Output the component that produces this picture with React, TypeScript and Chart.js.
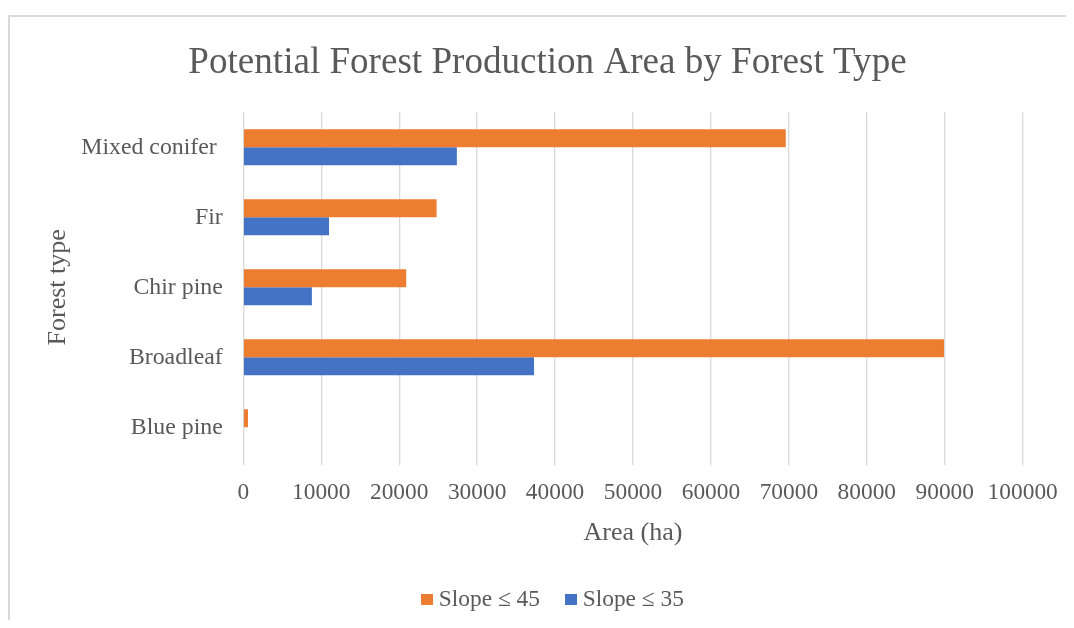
import React, { useEffect, useRef } from "react";
import { Chart, registerables } from "chart.js";

Chart.register(...registerables);

const categories = ["Mixed conifer ", "Fir", "Chir pine", "Broadleaf", "Blue pine"];
const slope45 = [69600, 24800, 20900, 89900, 600];
const slope35 = [27400, 11000, 8800, 37300, 0];
const seriesLabels = ["Slope ≤ 45", "Slope ≤ 35"];
const seriesColors = ["#ED7D31", "#4472C4"];
const xMin = 0;
const xMax = 100000;
const xStep = 10000;

const chartTitle = "Potential Forest Production Area by Forest Type";
const xTitle = "Area (ha)";
const yTitle = "Forest type";

const FONT = "'Liberation Serif', 'Times New Roman', serif";
const TEXT = "#595959";
const GRID = "#d9d9d9";

function makeBox(color: string): HTMLCanvasElement {
  const cv = document.createElement("canvas");
  cv.width = 12;
  cv.height = 11;
  const g = cv.getContext("2d")!;
  g.fillStyle = color;
  g.fillRect(0, 0, 12, 11);
  return cv;
}

const legendShift = {
  id: "legendShift",
  afterLayout(chart: any) {
    const lg = chart.legend;
    if (lg) {
      lg.left += 7.5;
      lg.right += 7.5;
    }
  },
};

export default function App() {
  const ref = useRef<HTMLCanvasElement | null>(null);

  useEffect(() => {
    if (!ref.current) return;
    const boxes = seriesColors.map(makeBox);
    const chart = new Chart(ref.current, {
      type: "bar",
      data: {
        labels: categories,
        datasets: [
          { label: seriesLabels[0], data: slope45, backgroundColor: seriesColors[0], borderWidth: 0 },
          { label: seriesLabels[1], data: slope35, backgroundColor: seriesColors[1], borderWidth: 0 },
        ],
      },
      plugins: [legendShift],
      options: {
        indexAxis: "y",
        responsive: false,
        animation: false,
        devicePixelRatio: 1,
        categoryPercentage: 0.515,
        barPercentage: 1,
        layout: { padding: { top: 0, left: 0, right: 0, bottom: 6.7 } },
        plugins: {
          tooltip: { enabled: false },
          title: {
            display: true,
            text: chartTitle,
            color: TEXT,
            font: { family: FONT, size: 37.1, weight: "normal" },
            padding: { top: 33, bottom: 26.8 },
          },
          legend: {
            position: "bottom",
            labels: {
              usePointStyle: true,
              boxWidth: 1,
              boxHeight: 11,
              padding: 30,
              color: TEXT,
              font: { family: FONT, size: 23.4 },
              generateLabels: (c: any) =>
                c.data.datasets.map((ds: any, i: number) => ({
                  text: ds.label,
                  fillStyle: ds.backgroundColor,
                  strokeStyle: ds.backgroundColor,
                  lineWidth: 0,
                  hidden: false,
                  datasetIndex: i,
                  pointStyle: boxes[i],
                  fontColor: TEXT,
                })),
            },
          },
        },
        scales: {
          x: {
            type: "linear",
            position: "bottom",
            min: xMin,
            max: xMax,
            afterFit: (s: any) => {
              s.height = 95.6;
            },
            ticks: {
              stepSize: xStep,
              color: TEXT,
              padding: 13.8,
              font: { family: FONT, size: 23.4 },
              callback: (v: any) => String(v),
            },
            grid: {
              color: GRID,
              lineWidth: 1.3,
              drawTicks: true,
              tickLength: 3,
              tickColor: GRID,
            },
            border: { display: false },
            title: {
              display: true,
              text: xTitle,
              color: TEXT,
              font: { family: FONT, size: 26 },
              padding: { top: 10.4, bottom: 9.1 },
            },
          },
          y: {
            type: "category",
            position: "left",
            afterFit: (s: any) => {
              s.width = 235.3;
            },
            ticks: {
              color: TEXT,
              padding: 20.6,
              font: { family: FONT, size: 23.8 },
            },
            grid: { display: false, drawTicks: false },
            border: { display: false },
            title: {
              display: true,
              text: yTitle,
              color: TEXT,
              font: { family: FONT, size: 26 },
              padding: { top: 35, bottom: 10 },
            },
          },
          yRight: {
            type: "linear",
            position: "right",
            display: true,
            afterFit: (s: any) => {
              s.width = 64.3;
            },
            ticks: { display: false },
            grid: { display: false, drawTicks: false },
            border: { display: false },
          },
        },
      } as any,
    });
    return () => chart.destroy();
  }, []);

  return (
    <div
      style={{
        position: "relative",
        width: 1066,
        height: 612,
        overflow: "hidden",
        background: "#ffffff",
      }}
    >
      <div
        style={{
          position: "absolute",
          top: 7,
          left: 0,
          width: 3000,
          height: 3000,
          border: `2px solid ${GRID}`,
          boxSizing: "border-box",
        }}
      />
      <canvas
        ref={ref}
        width={1079}
        height={620}
        style={{ position: "absolute", top: 0, left: 0, width: 1079, height: 620 }}
      />
    </div>
  );
}
